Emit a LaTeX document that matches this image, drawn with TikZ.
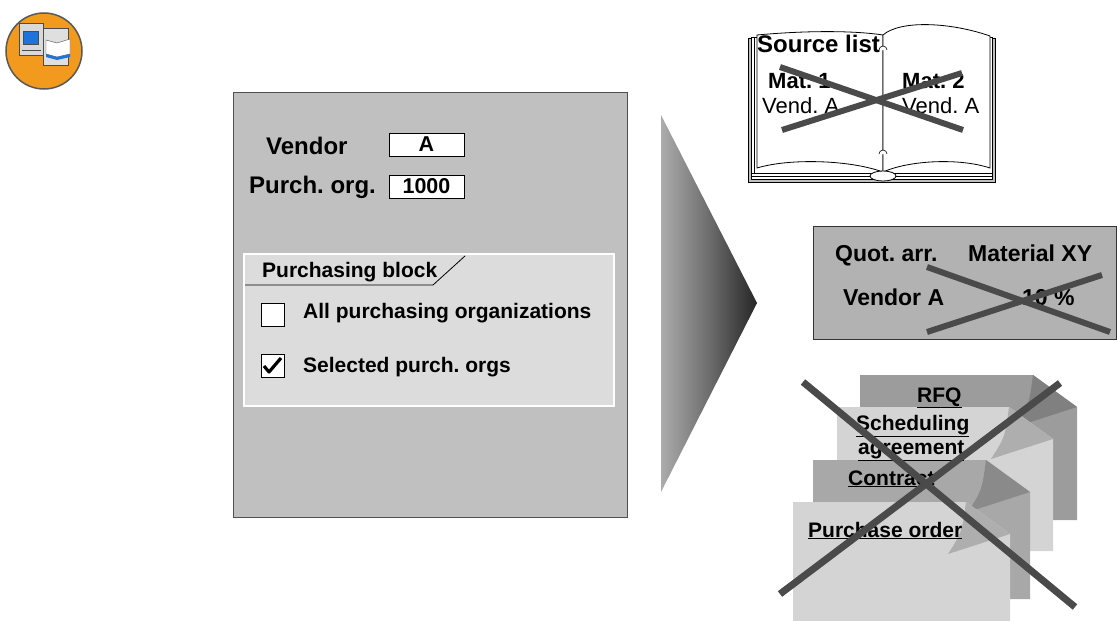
\documentclass[tikz,border=0pt]{standalone}
\usepackage{fontspec}
\setmainfont{Liberation Sans}
\usetikzlibrary{positioning, calc}
\frenchspacing

\definecolor{panelgray}{HTML}{C0C0C0}
\definecolor{innergray}{HTML}{DCDCDC}
\definecolor{edgegray}{HTML}{505050}
\definecolor{strikegray}{HTML}{4A4A4A}
\definecolor{quotgray}{HTML}{B2B2B2}
\definecolor{docdark}{HTML}{9C9C9C}
\definecolor{docmid}{HTML}{A8A8A8}
\definecolor{doclight}{HTML}{D4D4D4}
\definecolor{iconorange}{HTML}{F29A1E}
\definecolor{iconblue}{HTML}{1E74D8}

% one sheet of paper with a dog-eared corner: x1, y1, x2, y2, fill
\newcommand{\docsheet}[5]{%
  \fill[#5] (#1,#2) -- ({#3-44},#2) -- (#3,{#2+32}) -- (#3,#4) -- (#1,#4) -- cycle;
  \fill[#5!82!black] ({#3-44},#2) .. controls ({#3-48},{#2+30}) .. ({#3-62},{#2+52})
    -- (#3,{#2+32}) -- cycle;
}

\begin{document}
\begin{tikzpicture}[x=1pt, y=-1pt,
  lbl/.style={font=\fontsize{21}{25}\selectfont\bfseries, inner sep=0pt, anchor=base west},
  biglbl/.style={lbl, font=\fontsize{24}{28}\selectfont\bfseries},
  quotlbl/.style={lbl, font=\fontsize{23}{27}\selectfont\bfseries},
  plainlbl/.style={lbl, font=\fontsize{22}{26}\selectfont},
  valbox/.style={draw, fill=white, line width=0.8pt, minimum width=75pt, minimum height=23pt,
    inner sep=0pt, font=\fontsize{21.5}{25}\selectfont\bfseries},
  checkbox/.style={draw, fill=white, line width=0.8pt, minimum size=23pt, inner sep=0pt},
  strike/.style={line width=6pt, draw=strikegray},
]
\useasboundingbox (0,0) rectangle (1117,621);

% icon
\draw[fill=iconorange, draw=gray!70!black, line width=1.5pt] (44,51) circle (38);
\draw[fill=gray!25, draw=gray!60!black] (43,28) rectangle (68,65);
\draw[fill=white, draw=gray!60!black] (46,40) -- (57,43) -- (70,39) -- (70,54) -- (57,57) -- (46,54) -- cycle;
\fill[iconblue] (46,54) -- (57,57) -- (70,54) -- (70,57) -- (57,60) -- (46,57) -- cycle;
\draw[fill=gray!30, draw=gray!60!black] (19,23) rectangle (43,55);
\draw[fill=iconblue, draw=gray!60!black] (23,31) rectangle (38,44);
\draw[gray!60!black] (22,50) -- (41,50);

% maintenance screen
\draw[fill=panelgray, draw=edgegray, line width=1pt] (233,92) rectangle (627,517);
\node[biglbl] (vendor) at (266,154) {Vendor};
\node[valbox] (vendorval) at (426.5,144.5) {A};
\node[biglbl] (porg) at (249,193) {Purch. org.};
\node[valbox] (porgval) at (426.5,186.5) {1000};

\draw[fill=innergray, draw=white, line width=1.5pt] (244,254) rectangle (614,406);
\node[lbl] (block) at (262,277) {Purchasing block};
\draw[line width=0.8pt] (245,285) -- (433,285) -- (465,256);
\node[checkbox] (allbox) at (273,314.5) {};
\node[lbl] (all) at (303,318) {All purchasing organizations};
\node[checkbox] (selbox) at (273,365.5) {};
\draw[line width=3.2pt, line join=round] (264,366) -- (269,372) -- (281,358);
\node[lbl] (sel) at (303,372) {Selected purch. orgs};

% arrow
\shade[left color=gray!65, right color=black!85, middle color=gray!85!black]
  (661,115) -- (757,303) -- (661,492) -- cycle;

% source list book
\draw[fill=gray!50, line width=0.8pt] (748,38) rectangle (995,182);
\draw[fill=white, line width=0.5pt] (751,37) rectangle (992,179);
\draw[line width=0.5pt] (751,173) -- (992,173) (751,176) -- (992,176);
\draw[line width=0.5pt] (754,37) -- (754,173);
\draw[fill=white, line width=0.8pt] (757,35) .. controls (800,31) and (850,30) .. (883,35)
  -- (883,172) .. controls (850,160) and (790,158) .. (757,168) -- cycle;
\draw[fill=white, line width=0.8pt] (883,35) .. controls (900,20) and (950,22) .. (990,36)
  -- (990,168) .. controls (960,158) and (910,160) .. (883,172) -- cycle;
\draw[fill=white, line width=0.6pt] (879,50) arc (180:360:4);
\draw[fill=white, line width=0.6pt] (879,154) arc (180:360:4);
\draw[fill=white, line width=0.8pt] (883,176) ellipse (13 and 5);
\node[biglbl] (srclist) at (757,52) {Source list};
\node[biglbl, font=\fontsize{22}{26}\selectfont\bfseries] (mat1) at (768,88) {Mat. 1};
\node[plainlbl] (vend1) at (762,113) {Vend. A};
\node[biglbl, font=\fontsize{22}{26}\selectfont\bfseries] (mat2) at (902,88) {Mat. 2};
\node[plainlbl] (vend2) at (902,113) {Vend. A};
\draw[strike] (780,67) -- (963,130);
\draw[strike] (782,130) -- (962,73);

% quota arrangement
\draw[fill=quotgray, draw=black!80, line width=1pt] (813,226) rectangle (1116.5,339);
\node[quotlbl] (quot) at (835,261) {Quot. arr.};
\node[quotlbl] (matxy) at (968,261) {Material XY};
\node[quotlbl] (venda) at (843,305) {Vendor A};
\node[quotlbl] (share) at (1022,305) {10 \%};
\draw[strike] (927,267) -- (1110,332);
\draw[strike] (927,332) -- (1102,275);

% purchasing documents
\docsheet{860}{375}{1077}{520}{docdark}
\docsheet{837}{407}{1053}{551}{doclight}
\docsheet{813}{460}{1030}{599}{docmid}
\docsheet{793}{502}{1010}{625}{doclight}
\node[lbl] (rfq) at (917,402) {\underline{RFQ}};
\node[lbl] (sched) at (856,430) {\underline{Scheduling}};
\node[lbl] (agree) at (858,454) {\underline{agreement}};
\node[lbl] (contract) at (848,485) {\underline{Contract}};
\node[lbl] (po) at (808,537) {\underline{Purchase order}};
\draw[strike, line width=7pt] (803,382) -- (1075,607);
\draw[strike, line width=7pt] (780,594) -- (1060,383);
\end{tikzpicture}
\end{document}
